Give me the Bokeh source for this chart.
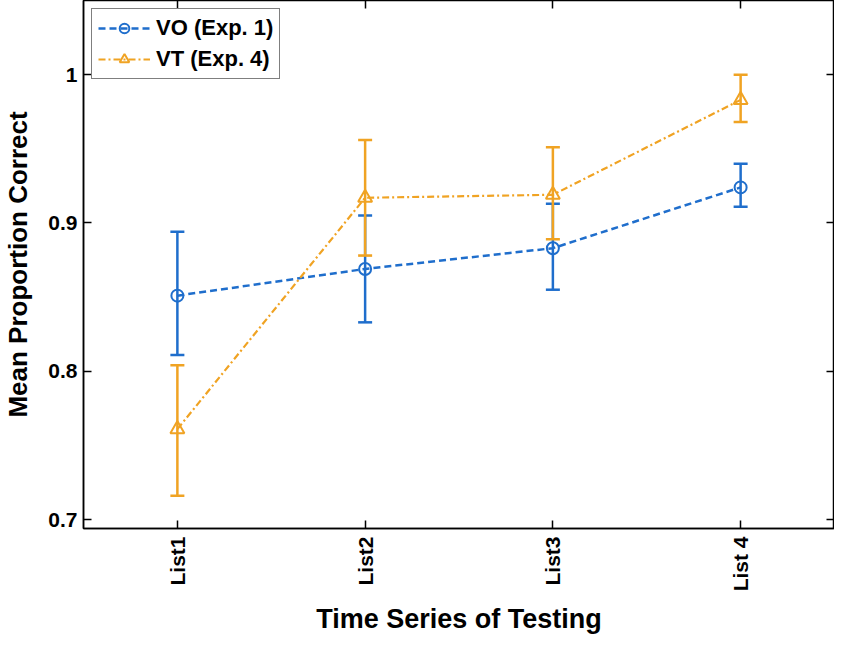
import math
from bokeh.plotting import figure
from bokeh.models import (ColumnDataSource, Whisker, TeeHead, FixedTicker, LinearAxis,
                          Range1d)
from bokeh.embed import file_html
from bokeh.resources import INLINE

# ---- data ----
categories = ["List1", "List2", "List3", "List 4"]
x_pos = [1, 2, 3, 4]
vo_mean = [0.851, 0.869, 0.883, 0.924]
vo_lower = [0.811, 0.833, 0.855, 0.911]
vo_upper = [0.894, 0.905, 0.913, 0.940]
vt_mean = [0.761, 0.917, 0.919, 0.983]
vt_lower = [0.716, 0.878, 0.889, 0.968]
vt_upper = [0.804, 0.956, 0.951, 1.000]
y_ticks = [0.7, 0.8, 0.9, 1.0]
y_tick_labels = ["0.7", "0.8", "0.9", "1"]
series_names = ["VO (Exp. 1)", "VT (Exp. 4)"]

BLUE = "#1f6ecc"
ORANGE = "#f0a323"
FONT = "Liberation Sans"

p = figure(width=834, height=637, output_backend="svg", toolbar_location=None,
           x_range=Range1d(0.5, 4.5), y_range=Range1d(0.694, 1.05),
           min_border_left=77, min_border_right=0, min_border_top=0,
           min_border_bottom=104)
p.xgrid.visible = False
p.ygrid.visible = False
p.outline_line_color = "black"
p.outline_line_width = 1.5
p.background_fill_color = "white"

vo_src = ColumnDataSource(dict(x=x_pos, y=vo_mean, lo=vo_lower, hi=vo_upper))
vt_src = ColumnDataSource(dict(x=x_pos, y=vt_mean, lo=vt_lower, hi=vt_upper))

for src, col in ((vo_src, BLUE), (vt_src, ORANGE)):
    w = Whisker(source=src, base="x", lower="lo", upper="hi",
                line_color=col, line_width=2.5,
                upper_head=TeeHead(size=14, line_color=col, line_width=2.5),
                lower_head=TeeHead(size=14, line_color=col, line_width=2.5))
    p.add_layout(w)

p.line("x", "y", source=vo_src, line_color=BLUE, line_width=2.5, line_dash="7 4",
       legend_label=series_names[0])
p.scatter("x", "y", source=vo_src, marker="circle", size=12, fill_color=None,
          line_color=BLUE, line_width=2, legend_label=series_names[0])
p.line("x", "y", source=vt_src, line_color=ORANGE, line_width=2.2, line_dash="7 3 2 3",
       legend_label=series_names[1])
p.scatter("x", "y", source=vt_src, marker="triangle", size=14, fill_color=None,
          line_color=ORANGE, line_width=2, legend_label=series_names[1])

# axes
xt = FixedTicker(ticks=x_pos)
yt = FixedTicker(ticks=y_ticks)
for ax in (p.xaxis[0], p.yaxis[0]):
    ax.major_tick_in = 8
    ax.major_tick_out = 0
    ax.minor_tick_line_color = None
    ax.axis_line_color = "black"
    ax.axis_line_width = 1.5
    ax.major_tick_line_width = 1.5
    ax.major_label_text_font = FONT
    ax.major_label_text_font_style = "bold"
    ax.major_label_text_color = "black"
    ax.axis_label_text_font = FONT
    ax.axis_label_text_font_style = "bold"
    ax.axis_label_text_font_size = "26px"
    ax.axis_label_text_color = "black"

p.xaxis[0].ticker = xt
p.xaxis[0].major_label_overrides = {x: c for x, c in zip(x_pos, categories)}
p.xaxis[0].major_label_orientation = math.pi / 2
p.xaxis[0].major_label_text_font_size = "21px"
p.xaxis[0].major_label_standoff = 8
p.xaxis[0].axis_label = "Time Series of Testing"
p.xaxis[0].axis_label_text_font_size = "27px"
p.xaxis[0].axis_label_standoff = 10

p.yaxis[0].ticker = yt
p.yaxis[0].major_label_overrides = {t: l for t, l in zip(y_ticks, y_tick_labels)}
p.yaxis[0].major_label_text_font_size = "21px"
p.yaxis[0].major_label_standoff = 6
p.yaxis[0].axis_label = "Mean Proportion Correct"
p.yaxis[0].axis_label_standoff = 12

top = LinearAxis(ticker=xt, major_tick_in=8, major_tick_out=0, axis_line_color=None,
                 minor_tick_line_color=None, major_tick_line_width=1.5,
                 major_label_standoff=0,
                 major_label_overrides={x: "" for x in x_pos})
right = LinearAxis(ticker=yt, major_tick_in=8, major_tick_out=0, axis_line_color=None,
                   minor_tick_line_color=None, major_tick_line_width=1.5,
                   major_label_standoff=0,
                   major_label_overrides={t: "" for t in y_ticks})
p.add_layout(top, "above")
p.add_layout(right, "right")

lg = p.legend[0]
lg.location = "top_left"
lg.margin = 8
lg.padding = 6
lg.spacing = 5
lg.glyph_width = 52
lg.glyph_height = 24
lg.label_standoff = 6
lg.label_text_font = FONT
lg.label_text_font_style = "bold"
lg.label_text_font_size = "22px"
lg.label_text_color = "black"
lg.border_line_color = "black"
lg.border_line_width = 1.2
lg.background_fill_alpha = 1

open("out.html", "w").write(file_html(p, INLINE))
